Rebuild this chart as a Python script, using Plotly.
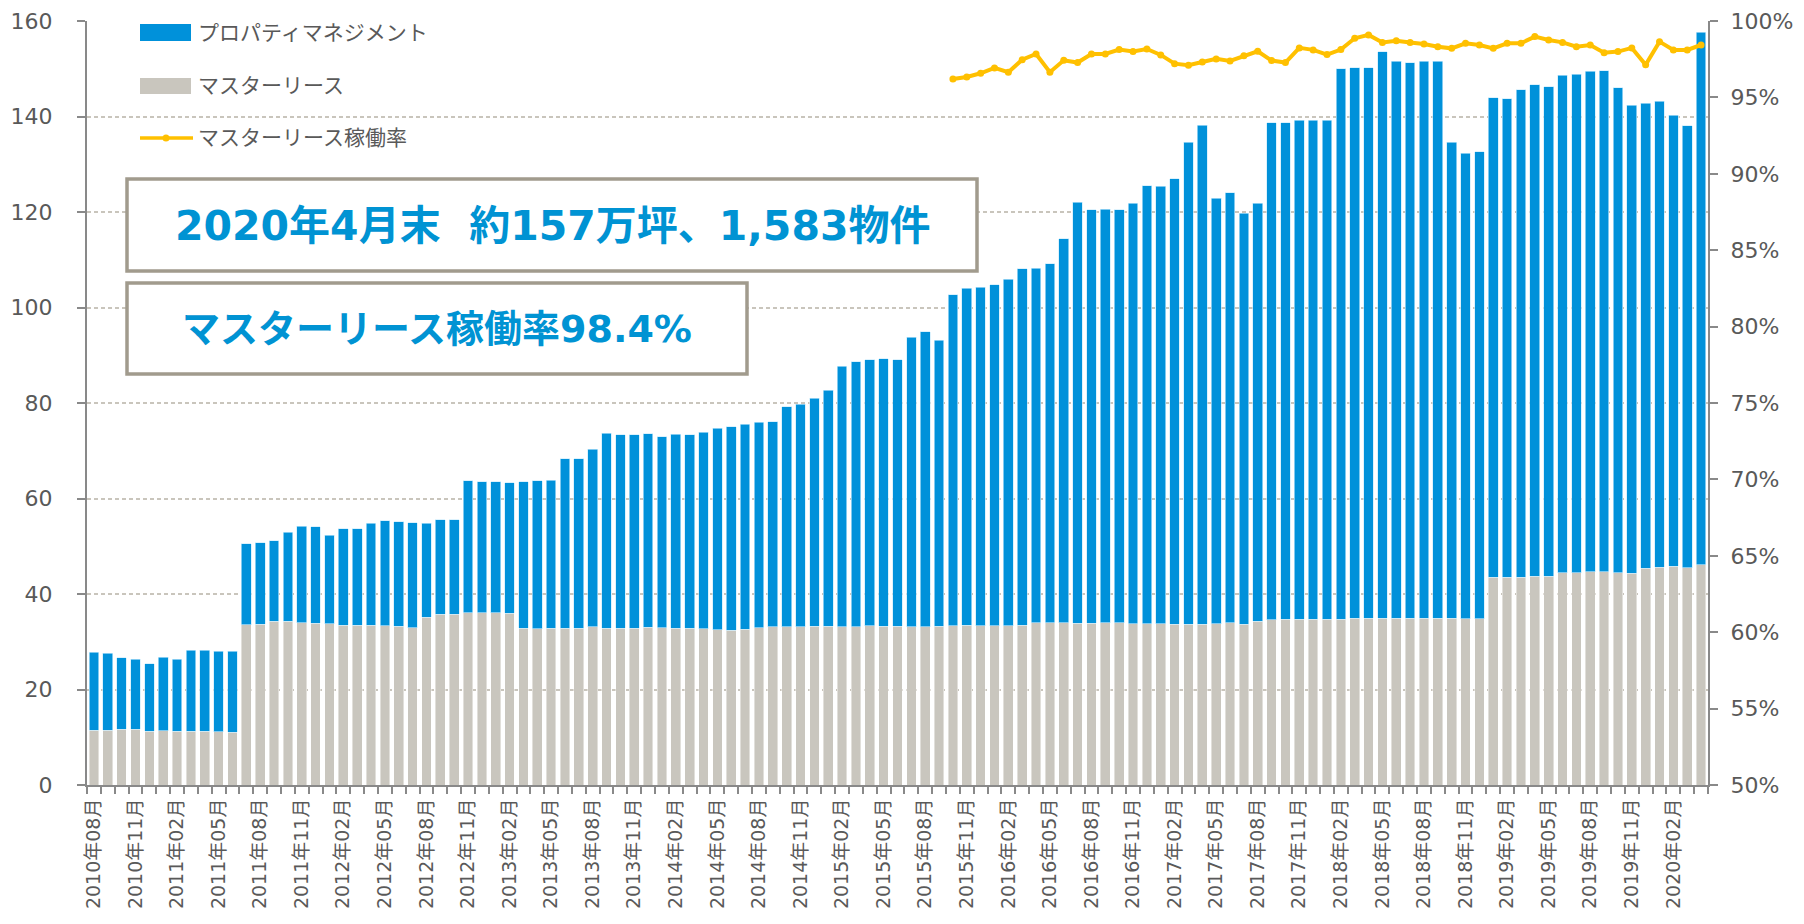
import plotly.graph_objects as go

# ---------------- data ----------------
months = []
for y in range(2010, 2021):
    for m in range(1, 13):
        if (y == 2010 and m < 8) or (y == 2020 and m > 4):
            continue
        months.append(f"{y}年{m:02d}月")

# マスターリース (万坪)
master_lease = [
    11.5, 11.5, 11.7, 11.7, 11.3, 11.4, 11.3, 11.3, 11.3, 11.2, 11.1,
    33.6, 33.7, 34.3, 34.3, 34.0, 33.9, 33.8, 33.5, 33.5, 33.5, 33.3, 33.2, 32.9,
    35.1, 35.8, 35.8, 36.1, 36.1, 36.1, 36.0, 32.8, 32.7, 32.8, 32.8, 32.8, 33.1,
    32.8, 32.8, 32.8, 33.0, 32.9, 32.8, 32.8, 32.7, 32.5, 32.4, 32.6, 32.9, 33.1,
    33.1, 33.1, 33.2, 33.2, 33.1, 33.1, 33.3, 33.2, 33.2, 33.1, 33.1, 33.2, 33.3,
    33.5, 33.3, 33.3, 33.3, 33.5, 34.0, 34.0, 34.0, 33.9, 33.9, 34.0, 34.0, 33.8,
    33.8, 33.8, 33.7, 33.7, 33.7, 33.8, 34.0, 33.7, 34.3, 34.6, 34.7, 34.7, 34.7,
    34.7, 34.7, 34.9, 34.9, 34.9, 34.9, 34.9, 34.9, 34.9, 34.9, 34.8, 34.8,
    43.5, 43.5, 43.5, 43.7, 43.7, 44.5, 44.5, 44.7, 44.7, 44.4, 44.3, 45.4, 45.6,
    45.8, 45.5, 46.1,
]

# プロパティマネジメント (万坪)
property_mgmt = [
    16.3, 16.1, 14.9, 14.6, 14.1, 15.4, 15.0, 16.9, 16.9, 16.8, 16.9,
    16.9, 17.0, 16.9, 18.6, 20.2, 20.2, 18.5, 20.2, 20.2, 21.3, 22.0, 21.9, 22.0,
    19.7, 19.8, 19.7, 27.6, 27.4, 27.4, 27.3, 30.7, 31.0, 31.0, 35.5, 35.5, 37.2,
    40.9, 40.6, 40.6, 40.6, 40.0, 40.7, 40.6, 41.2, 42.2, 42.6, 42.9, 43.1, 43.0,
    46.1, 46.6, 47.8, 49.5, 54.6, 55.5, 55.8, 56.1, 55.9, 60.7, 61.8, 59.9, 69.4,
    70.5, 70.9, 71.5, 72.6, 74.6, 74.2, 75.2, 80.4, 88.1, 86.6, 86.6, 86.5, 88.0,
    91.7, 91.6, 93.3, 100.9, 104.5, 89.1, 90.0, 86.0, 87.5, 104.1, 104.0, 104.5, 104.5,
    104.5, 115.3, 115.3, 115.3, 118.7, 116.7, 116.4, 116.7, 116.7, 99.7, 97.5, 97.8,
    100.4, 100.2, 102.1, 103.0, 102.5, 104.1, 104.4, 104.8, 104.9, 101.6, 98.1, 97.4, 97.6,
    94.5, 92.6, 111.5,
]

# マスターリース稼働率 (%), from 2015年10月
occupancy_months = months[62:]
occupancy = [
    96.2, 96.34, 96.58, 96.93, 96.65, 97.47, 97.84, 96.65, 97.43, 97.28,
    97.84, 97.84, 98.13, 98.0, 98.17, 97.78, 97.21, 97.1, 97.32, 97.52,
    97.39, 97.73, 98.02, 97.41, 97.28, 98.24, 98.11, 97.8, 98.13, 98.87,
    99.09, 98.6, 98.71, 98.6, 98.5, 98.32, 98.21, 98.54, 98.43, 98.21,
    98.54, 98.54, 98.98, 98.76, 98.6, 98.32, 98.43, 97.93, 98.0, 98.24,
    97.13, 98.65, 98.11, 98.11, 98.43,
]

tick_text = [m if i % 3 == 0 else "" for i, m in enumerate(months)]

legend_labels = ["プロパティマネジメント", "マスターリース", "マスターリース稼働率"]
headline_1 = "2020年4月末\u00a0\u00a0約157万坪、1,583物件"
headline_2 = "マスターリース稼働率98.4%"

# ---------------- style ----------------
BLUE = "#0091DA"
GRAY = "#C9C6BE"
GOLD = "#FFC000"
TEXT_BLUE = "#0093D3"
BOX_LINE = "#A19B8D"
AXIS = "#898989"
GRID = "#C9C5BC"
LABEL = "#595959"
FONT = "DejaVu Sans, Noto Sans CJK JP, sans-serif"

OFF = 8  # page body margin
W, H = 1788, 908
ML, MR, MT, MB = 79, 88, 13, 131
PW, PH = W - ML - MR, H - MT - MB


def px(x):
    """page pixel x -> paper coordinate"""
    return (x - OFF - ML) / PW


def py(y):
    """page pixel y -> paper coordinate"""
    return (H - MB - (y - OFF)) / PH


fig = go.Figure()
fig.add_trace(go.Bar(
    x=months, y=master_lease, name=legend_labels[1],
    marker=dict(color=GRAY, line=dict(color="rgba(255,255,255,0.55)", width=0.8)),
    showlegend=False,
))
fig.add_trace(go.Bar(
    x=months, y=property_mgmt, name=legend_labels[0],
    marker=dict(color=BLUE, line=dict(color="rgba(200,235,252,0.8)", width=0.8)),
    showlegend=False,
))
fig.add_trace(go.Scatter(
    x=occupancy_months, y=occupancy, name=legend_labels[2], yaxis="y2",
    mode="lines+markers",
    line=dict(color=GOLD, width=4),
    marker=dict(color=GOLD, size=7),
    showlegend=False,
))

shapes = []
annotations = []

# manual legend
shapes.append(dict(type="rect", xref="paper", yref="paper",
                   x0=px(140), x1=px(191), y0=py(41), y1=py(24),
                   fillcolor=BLUE, line=dict(width=0)))
shapes.append(dict(type="rect", xref="paper", yref="paper",
                   x0=px(140), x1=px(191), y0=py(94), y1=py(78),
                   fillcolor=GRAY, line=dict(width=0)))
shapes.append(dict(type="line", xref="paper", yref="paper",
                   x0=px(140), x1=px(193), y0=py(138), y1=py(138),
                   line=dict(color=GOLD, width=3.5)))
shapes.append(dict(type="circle", xref="paper", yref="paper",
                   x0=px(162.5), x1=px(169.5), y0=py(141.5), y1=py(134.5),
                   fillcolor=GOLD, line=dict(width=0)))
for lbl, yc in zip(legend_labels, [33, 86, 138]):
    annotations.append(dict(text=lbl, xref="paper", yref="paper",
                            x=px(196), y=py(yc), xanchor="left", yanchor="middle",
                            showarrow=False,
                            font=dict(family=FONT, size=21, color=LABEL)))

# headline boxes
shapes.append(dict(type="rect", xref="paper", yref="paper", layer="above",
                   x0=px(127), x1=px(977), y0=py(271), y1=py(179),
                   fillcolor="white", line=dict(color=BOX_LINE, width=3.5)))
shapes.append(dict(type="rect", xref="paper", yref="paper", layer="above",
                   x0=px(127), x1=px(747), y0=py(374), y1=py(283),
                   fillcolor="white", line=dict(color=BOX_LINE, width=3.5)))
annotations.append(dict(text=f"<b>{headline_1}</b>", xref="paper", yref="paper",
                        x=px(552), y=py(226), xanchor="center", yanchor="middle",
                        showarrow=False,
                        font=dict(family=FONT, size=41, color=TEXT_BLUE)))
annotations.append(dict(text=f"<b>{headline_2}</b>", xref="paper", yref="paper",
                        x=px(437), y=py(329), xanchor="center", yanchor="middle",
                        showarrow=False,
                        font=dict(family=FONT, size=38, color=TEXT_BLUE)))

fig.update_layout(
    width=W, height=H,
    margin=dict(l=ML, r=MR, t=MT, b=MB, pad=0, autoexpand=False),
    barmode="stack", bargap=0.3,
    plot_bgcolor="white", paper_bgcolor="white",
    font=dict(family=FONT, color=LABEL),
    shapes=shapes, annotations=annotations,
    xaxis=dict(
        type="category", tickmode="array", tickvals=months, ticktext=tick_text,
        tickangle=-90, tickson="boundaries", ticks="outside", ticklen=7,
        tickcolor=AXIS, tickwidth=1.5, showline=True, linecolor=AXIS, linewidth=2,
        showgrid=False, tickfont=dict(family=FONT, size=19, color=LABEL),
        ticklabelstandoff=4, range=[-0.5, len(months) - 0.5], automargin=False,
    ),
    yaxis=dict(
        range=[0, 160], dtick=20, ticks="outside", ticklen=8, tickcolor=AXIS,
        tickwidth=1.5, showline=True, linecolor=AXIS, linewidth=2,
        showgrid=True, gridcolor=GRID, griddash="4px,3px", gridwidth=1.5,
        zeroline=False, tickfont=dict(family=FONT, size=22, color=LABEL),
        ticklabelstandoff=20, automargin=False,
    ),
    yaxis2=dict(
        range=[50, 100], dtick=5, ticksuffix="%", overlaying="y", side="right",
        ticks="outside", ticklen=8, tickcolor=AXIS, tickwidth=1.5,
        showline=True, linecolor=AXIS, linewidth=2, showgrid=False, zeroline=False,
        tickfont=dict(family=FONT, size=22, color=LABEL), ticklabelstandoff=8,
        automargin=False,
    ),
)

fig.write_html("out.html")
